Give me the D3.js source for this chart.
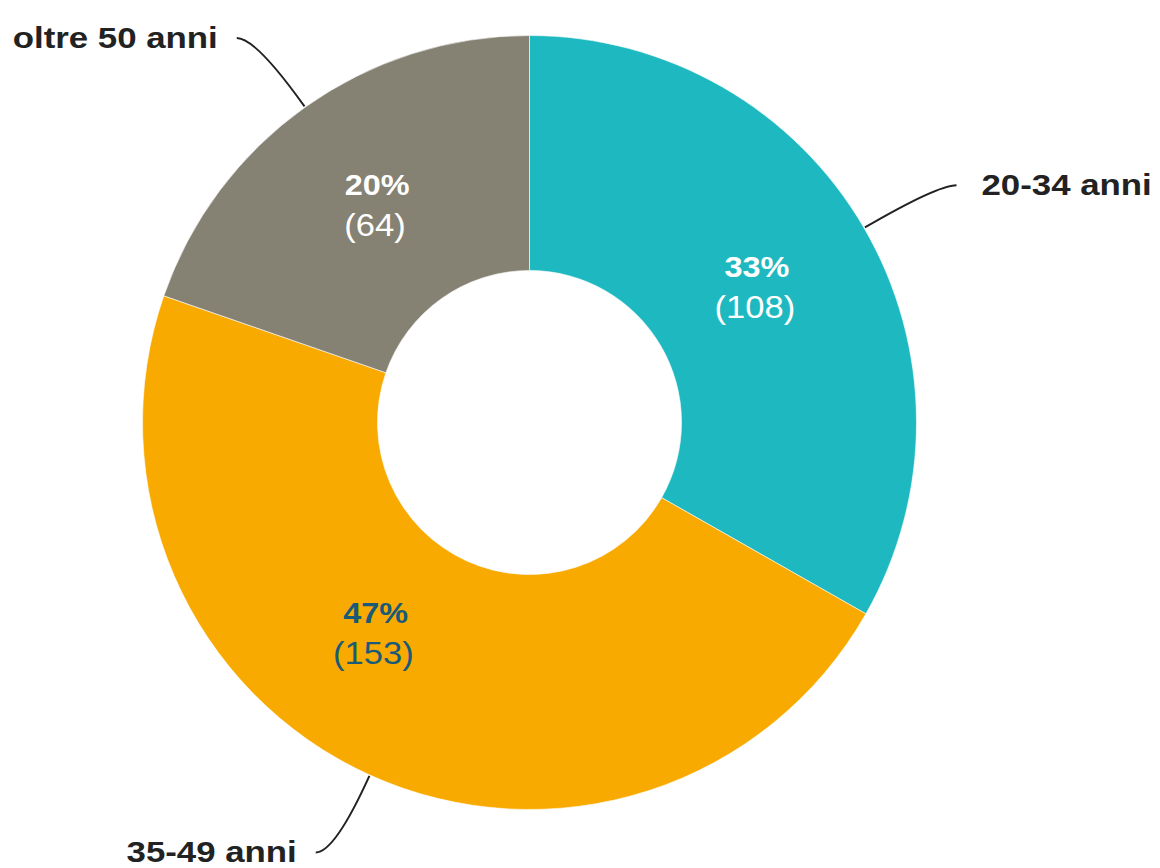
<!DOCTYPE html>
<html>
<head>
<meta charset="utf-8">
<script src="https://cdn.jsdelivr.net/npm/d3@7"></script>
<style>
  html, body { margin: 0; padding: 0; background: #fff; }
  svg { display: block; }
</style>
</head>
<body>
<div id="chart"></div>
<script>
// age groups and counts
var categories = ['20-34 anni', '35-49 anni', 'oltre 50 anni'];
var counts = [108, 153, 64];
var percents = ['33%', '47%', '20%'];

var colors = ['#1eb9c0', '#f8aa00', '#858173'];
var valueColors = ['#ffffff', '#1a5a78', '#ffffff'];

var width = 1160,
    height = 868,
    cx = 529.5,
    cy = 422.5,
    outerR = 387,
    innerR = 152;

var svg = d3.select('#chart').append('svg')
    .attr('width', width)
    .attr('height', height);

var g = svg.append('g')
    .attr('transform', 'translate(' + cx + ',' + cy + ')');

var data = categories.map(function(c, i) {
    return { name: c, value: counts[i], pct: percents[i], color: colors[i], txt: valueColors[i] };
});

var pie = d3.pie()
    .sort(null)
    .value(function(d) { return d.value; });

var arcs = pie(data);

var arc = d3.arc()
    .innerRadius(innerR)
    .outerRadius(outerR);

g.selectAll('path.slice')
    .data(arcs)
    .enter()
    .append('path')
    .attr('class', 'slice')
    .attr('d', arc)
    .attr('fill', function(d) { return d.data.color; })
    .attr('stroke', '#fff')
    .attr('stroke-width', 0.6);

// point at radius r, angle a (0 = top, clockwise)
function polar(r, a) {
    return [r * Math.sin(a), -r * Math.cos(a)];
}
function midAngle(d) { return (d.startAngle + d.endAngle) / 2; }

// the 47% label sits a little further round in the original
var nudge = { '35-49 anni': 11.5 * Math.PI / 180 };

var inner = g.selectAll('g.val')
    .data(arcs)
    .enter()
    .append('g')
    .attr('class', 'val')
    .attr('transform', function(d) {
        var p = polar(263, midAngle(d) + (nudge[d.data.name] || 0));
        return 'translate(' + (p[0] - 2) + ',' + p[1] + ') scale(1.08,1)';
    })
    .style('font-family', '"Liberation Sans", Arial, sans-serif')
    .attr('text-anchor', 'middle')
    .attr('fill', function(d) { return d.data.txt; });

inner.append('text')
    .attr('x', 2)
    .attr('y', -13)
    .style('font-size', '30px')
    .style('font-weight', 'bold')
    .text(function(d) { return d.data.pct; });

inner.append('text')
    .attr('y', 28)
    .style('font-size', '32px')
    .text(function(d) { return '(' + d.data.value + ')'; });

// leader lines and outer labels
var leader = g.selectAll('g.lead')
    .data(arcs)
    .enter()
    .append('g')
    .attr('class', 'lead');

leader.append('path')
    .attr('fill', 'none')
    .attr('stroke', '#222')
    .attr('stroke-width', 2)
    .attr('d', function(d) {
        var a = midAngle(d);
        var s = polar(outerR + 1, a);
        var c = polar(outerR + 85, a);
        var dir = Math.sin(a) >= 0 ? 1 : -1;
        var p = d3.path();
        p.moveTo(s[0], s[1]);
        p.quadraticCurveTo(c[0], c[1], c[0] + dir * 19, c[1]);
        return p.toString();
    });

leader.append('text')
    .attr('transform', function(d) {
        var a = midAngle(d);
        var c = polar(outerR + 85, a);
        var dir = Math.sin(a) >= 0 ? 1 : -1;
        var x = c[0] + dir * (dir > 0 ? 44 : 38);
        return 'translate(' + x + ',' + (c[1] + 10) + ') scale(1.18,1)';
    })
    .attr('text-anchor', function(d) { return Math.sin(midAngle(d)) >= 0 ? 'start' : 'end'; })
    .style('font-family', '"Liberation Sans", Arial, sans-serif')
    .style('font-size', '29.5px')
    .style('font-weight', 'bold')
    .attr('fill', '#222')
    .text(function(d) { return d.data.name; });
</script>
</body>
</html>
